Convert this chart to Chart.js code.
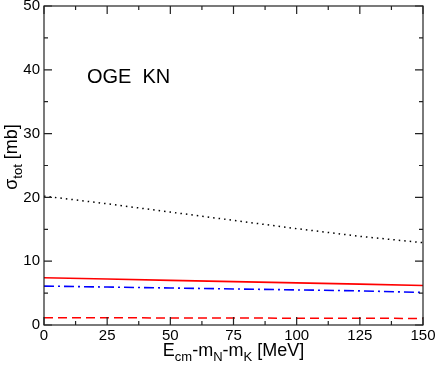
<!DOCTYPE html>
<html>
<head>
<meta charset="utf-8">
<script src="https://cdn.jsdelivr.net/npm/chart.js@4.4.1/dist/chart.umd.min.js"></script>
<style>
  html, body { margin: 0; padding: 0; background: #fff; }
  #wrap { width: 436px; height: 365px; }
</style>
</head>
<body>
<div id="wrap"><canvas id="c" width="436" height="365"></canvas></div>
<script>
const energies = [0, 25, 50, 75, 100, 125, 150];
const dottedBlack = [20.2, 19.0, 17.7, 16.4, 15.1, 13.9, 12.9];
const solidRed = [7.4, 7.2, 7.0, 6.8, 6.6, 6.4, 6.2];
const dashDotBlue = [6.1, 5.95, 5.8, 5.65, 5.5, 5.35, 5.1];
const dashedRed = [1.15, 1.13, 1.11, 1.09, 1.07, 1.05, 1.03];
const xTicks = [0, 25, 50, 75, 100, 125, 150];
const yTicks = [0, 10, 20, 30, 40, 50];

const FONT = 'Liberation Sans, Arial, sans-serif';

function pts(ys) { return energies.map((x, i) => ({ x: x, y: ys[i] })); }

// ticks pointing inward on all four sides, plus axis titles with subscripts
const framePlugin = {
    id: 'frame',
    afterDraw(chart) {
        const ctx = chart.ctx;
        const a = chart.chartArea;
        const xs = chart.scales.x, ys = chart.scales.y;
        ctx.save();
        ctx.strokeStyle = '#222';
        ctx.lineWidth = 1.2;
        ctx.strokeRect(a.left, a.top, a.right - a.left, a.bottom - a.top);
        ctx.beginPath();
        for (let v = 0; v <= 150; v += 12.5) {
            const px = xs.getPixelForValue(v);
            const len = (v % 25 === 0) ? 8 : 4;
            ctx.moveTo(px, a.bottom); ctx.lineTo(px, a.bottom - len);
            ctx.moveTo(px, a.top); ctx.lineTo(px, a.top + len);
        }
        for (let v = 0; v <= 50; v += 5) {
            const py = ys.getPixelForValue(v);
            const len = (v % 10 === 0) ? 8 : 4;
            ctx.moveTo(a.left, py); ctx.lineTo(a.left + len, py);
            ctx.moveTo(a.right, py); ctx.lineTo(a.right - len, py);
        }
        ctx.stroke();

        // label inside the plot
        ctx.fillStyle = '#000';
        ctx.font = '20px ' + FONT;
        ctx.textBaseline = 'alphabetic';
        ctx.textAlign = 'left';
        ctx.fillText('OGE  KN', xs.getPixelForValue(17), ys.getPixelForValue(37.9));

        // x title
        const parts = [['E', 0], ['cm', 1], ['-m', 0], ['N', 1], ['-m', 0], ['K', 1], [' [MeV]', 0]];
        const big = '18px ' + FONT, small = '13px ' + FONT;
        let w = 0;
        parts.forEach(p => { ctx.font = p[1] ? small : big; w += ctx.measureText(p[0]).width; });
        let x = (a.left + a.right) / 2 - w / 2;
        const base = 356;
        parts.forEach(p => {
            ctx.font = p[1] ? small : big;
            ctx.fillText(p[0], x, base + (p[1] ? 5 : 0));
            x += ctx.measureText(p[0]).width;
        });

        // y title
        ctx.translate(17, 157);
        ctx.rotate(-Math.PI / 2);
        const yparts = [['σ', 0], ['tot', 1], [' [mb]', 0]];
        w = 0;
        yparts.forEach(p => { ctx.font = p[1] ? small : big; w += ctx.measureText(p[0]).width; });
        x = -w / 2;
        yparts.forEach(p => {
            ctx.font = p[1] ? small : big;
            ctx.fillText(p[0], x, p[1] ? 5 : 0);
            x += ctx.measureText(p[0]).width;
        });
        ctx.restore();
    }
};

new Chart(document.getElementById('c'), {
    type: 'line',
    data: {
        datasets: [
            { data: pts(dottedBlack), borderColor: '#000', borderWidth: 1.5, borderDash: [1.5, 4] },
            { data: pts(solidRed), borderColor: '#ff0000', borderWidth: 1.6 },
            { data: pts(dashDotBlue), borderColor: '#0000ff', borderWidth: 1.6, borderDash: [10, 4, 2, 4] },
            { data: pts(dashedRed), borderColor: '#ff0000', borderWidth: 1.5, borderDash: [9, 5] }
        ]
    },
    options: {
        responsive: false,
        animation: false,
        events: [],
        layout: { padding: { top: 6, right: 13, left: 0, bottom: 0 } },
        elements: { point: { radius: 0 }, line: { tension: 0, fill: false } },
        plugins: { legend: { display: false }, tooltip: { enabled: false } },
        scales: {
            x: {
                type: 'linear', min: 0, max: 150,
                afterBuildTicks: s => { s.ticks = xTicks.map(v => ({ value: v })); },
                afterFit: s => { s.height = 40; s.paddingLeft = 0; s.paddingRight = 0; },
                grid: { display: false, drawTicks: false },
                border: { display: false },
                ticks: { color: '#000', font: { family: FONT, size: 15 }, padding: 2, maxRotation: 0 }
            },
            y: {
                type: 'linear', min: 0, max: 50,
                afterBuildTicks: s => { s.ticks = yTicks.map(v => ({ value: v })); },
                afterFit: s => { s.width = 44; s.paddingTop = 0; s.paddingBottom = 0; },
                grid: { display: false, drawTicks: false },
                border: { display: false },
                ticks: { color: '#000', font: { family: FONT, size: 15 }, padding: 4 }
            }
        }
    },
    plugins: [framePlugin]
});
</script>
</body>
</html>
